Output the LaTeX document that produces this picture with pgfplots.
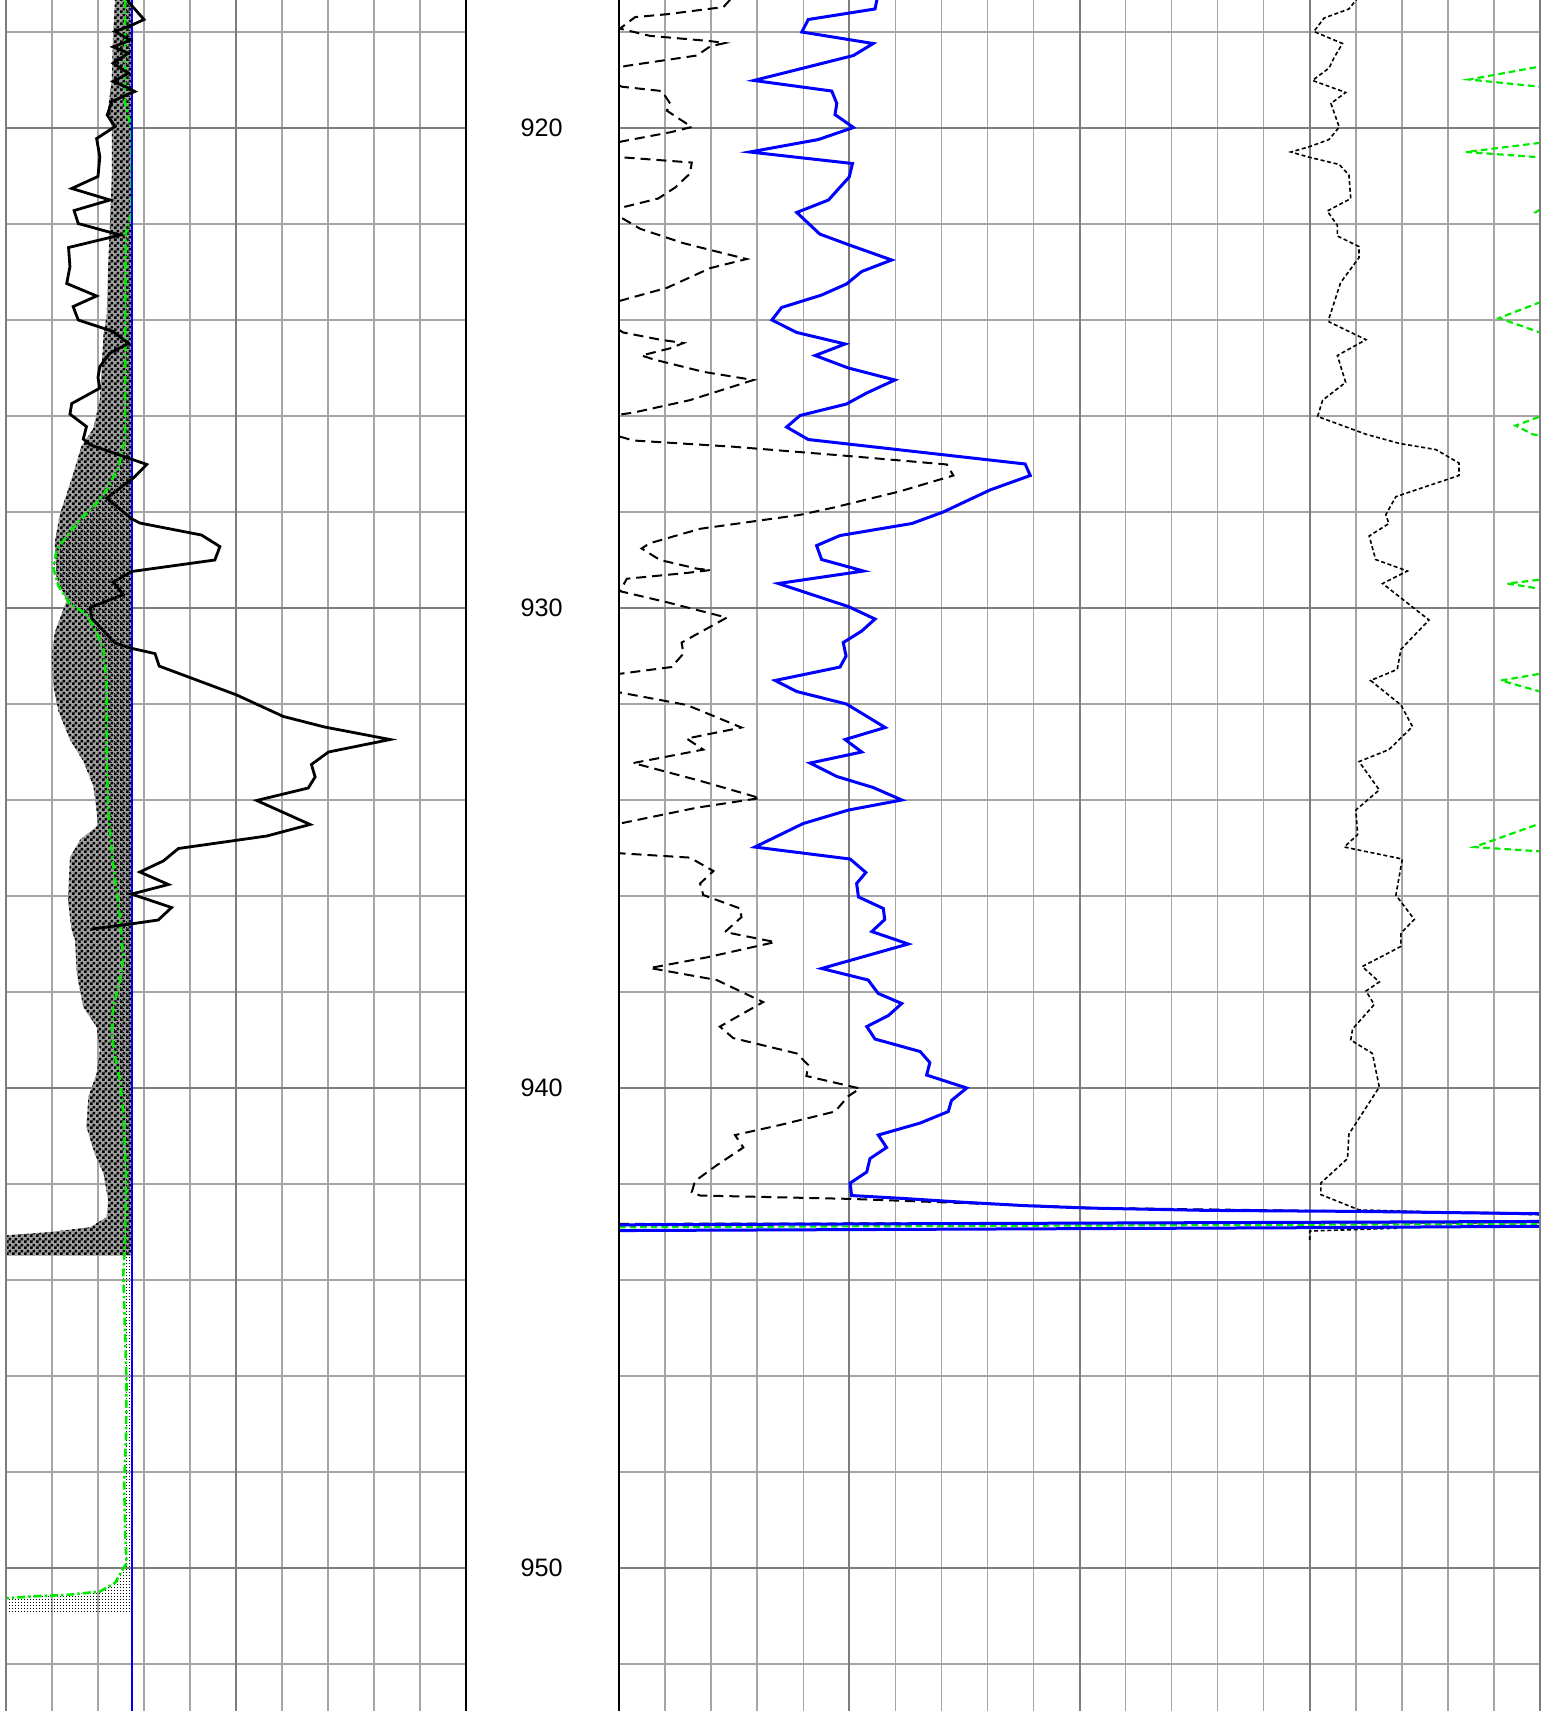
\documentclass[border=0pt]{standalone}
\usepackage{pgfplots}
\pgfplotsset{compat=1.18}
\usepackage{fontspec}
\setmainfont{Liberation Sans}
\usetikzlibrary{patterns}
\definecolor{gridgray}{RGB}{165,165,165}
\definecolor{majgray}{RGB}{125,125,125}
\definecolor{lgreen}{RGB}{0,235,0}
\pgfdeclarepatternformonly{chk}{\pgfpointorigin}{\pgfqpoint{3pt}{3pt}}{\pgfqpoint{3pt}{3pt}}{%
  \pgfpathrectangle{\pgfpointorigin}{\pgfqpoint{1.5pt}{1.5pt}}%
  \pgfpathrectangle{\pgfqpoint{1.5pt}{1.5pt}}{\pgfqpoint{1.5pt}{1.5pt}}%
  \pgfusepath{fill}}
\pgfdeclarepatternformonly{dts}{\pgfpointorigin}{\pgfqpoint{0.6pt}{0.6pt}}{\pgfqpoint{1.5pt}{1.5pt}}{%
  \pgfpathrectangle{\pgfpointorigin}{\pgfqpoint{0.6pt}{0.6pt}}%
  \pgfusepath{fill}}
\pgfplotsset{
  track/.style={
    scale only axis, anchor=north west, height=876pt,
    ymin=917, ymax=953.5, y dir=reverse,
    axis line style={draw=none},
    ytick={918,920,...,952},
    xticklabel=\empty, yticklabel=\empty,
    major tick length=0pt, tick style={draw=none},
    grid=major, major grid style={color=gridgray, line width=0.7pt},
    extra y ticks={920,930,940,950},
    extra tick style={grid=major, major grid style={color=majgray, line width=1pt}},
  }
}
\begin{document}
\begin{tikzpicture}
\useasboundingbox (0,0) rectangle (776.5pt,855.5pt);
\clip (0,0) rectangle (776.5pt,855.5pt);
% ---------------- left track ----------------
\begin{axis}[track, name=L, at={(3pt,863.5pt)}, width=230pt,
  xmin=0, xmax=10, xtick={0,...,10}, extra x ticks={5}]
% checker fill
\addplot[draw=none, fill=black!38, postaction={pattern=chk, pattern color=black}] coordinates {
(2.37,917.0) (2.37,917.33) (2.33,918.0) (2.30,919.0) (2.22,919.6) (2.30,920.0) (2.30,921.0)
(2.26,922.0) (2.22,922.9) (2.19,923.9) (2.12,924.3) (2.08,925.0) (2.04,925.66) (1.9,926.26)
(1.64,926.63) (1.43,927.3) (1.17,928.05) (1.06,928.64) (1.1,929.39) (1.32,929.84) (1.06,930.51)
(0.99,931.03) (1.03,931.62) (1.14,932.15) (1.39,932.74) (1.68,933.19) (1.9,933.71) (1.97,934.23)
(2.0,934.53) (1.61,934.83) (1.39,935.2) (1.35,936.09) (1.42,936.69) (1.5,936.92) (1.54,937.62)
(1.68,938.31) (1.97,938.73) (2.04,939.22) (1.97,939.7) (1.79,940.19) (1.75,940.81) (1.93,941.37)
(2.12,941.78) (2.22,942.34) (2.19,942.69) (1.83,942.9) (0.96,943.0) (0.0,943.07) (0.0,943.49)
(2.73,943.49) (2.73,917.0)} -- cycle;
% dotted fill between green curve and baseline
\addplot[draw=none, pattern=dts, pattern color=black] coordinates {
(2.59,917.0) (2.59,919.5) (2.72,920.0) (2.72,921.8) (2.6,922.2) (2.59,925.66) (2.59,926.48)
(2.44,927.08) (2.19,927.53) (1.97,927.82) (1.61,928.16) (1.32,928.5) (1.1,928.79) (1.03,929.17)
(1.14,929.54) (1.39,929.91) (1.75,930.13) (1.97,930.51) (2.12,930.88) (2.19,931.62) (2.19,933.11)
(2.22,934.23) (2.33,935.35) (2.48,936.47) (2.55,937.29) (2.48,937.76) (2.33,938.31) (2.30,938.87)
(2.37,939.35) (2.48,939.84) (2.55,940.53) (2.61,941.78) (2.59,943.17) (2.55,943.87) (2.62,946.15)
(2.61,947.19) (2.57,948.23) (2.59,949.27) (2.62,949.9) (2.37,950.31) (2.04,950.49) (1.32,950.56)
(0.59,950.59) (0.0,950.63) (0.0,950.94) (2.73,950.94) (2.73,917.0)} -- cycle;
% green dash-dot curve
\addplot[lgreen, line width=1.3pt, dash pattern=on 4pt off 1.5pt on 1.2pt off 1.5pt] coordinates {
(2.59,917.0) (2.59,919.5) (2.72,920.0) (2.72,921.8) (2.6,922.2) (2.59,925.66) (2.59,926.48)
(2.44,927.08) (2.19,927.53) (1.97,927.82) (1.61,928.16) (1.32,928.5) (1.1,928.79) (1.03,929.17)
(1.14,929.54) (1.39,929.91) (1.75,930.13) (1.97,930.51) (2.12,930.88) (2.19,931.62) (2.19,933.11)
(2.22,934.23) (2.33,935.35) (2.48,936.47) (2.55,937.29) (2.48,937.76) (2.33,938.31) (2.30,938.87)
(2.37,939.35) (2.48,939.84) (2.55,940.53) (2.61,941.78) (2.59,943.17) (2.55,943.87) (2.62,946.15)
(2.61,947.19) (2.57,948.23) (2.59,949.27) (2.62,949.9) (2.37,950.31) (2.04,950.49) (1.32,950.56)
(0.59,950.59) (0.0,950.63)};
% blue baseline
\addplot[blue, line width=1pt] coordinates {(2.73,917.0) (2.73,953.5)};
% black solid curve
\addplot[black, line width=1.4pt] coordinates {
(2.7,917.0) (2.66,917.37) (3.0,917.74) (2.75,917.85) (2.37,917.99) (2.70,918.17) (2.33,918.31)
(2.66,918.44) (2.33,918.65) (2.66,918.86) (2.33,919.03) (2.62,919.15) (2.80,919.24) (2.62,919.31)
(2.30,919.45) (2.20,919.73) (2.37,919.97) (1.97,920.22) (2.04,920.6) (2.0,921.01) (1.43,921.26)
(2.26,921.5) (1.48,921.72) (1.57,921.99) (2.48,922.23) (1.36,922.49) (1.39,922.89) (1.32,923.24)
(1.97,923.5) (1.46,923.72) (1.57,924.0) (2.33,924.24) (2.66,924.49) (2.26,924.69) (2.04,924.97)
(2.0,925.2) (2.04,925.42) (1.43,925.74) (1.39,925.96) (1.75,926.22) (1.68,926.48) (1.83,926.6)
(3.06,927.01) (2.77,927.29) (2.19,927.71) (2.73,928.14) (2.91,928.23) (4.25,928.48) (4.65,928.72)
(4.54,929.0) (2.73,929.24) (2.33,929.46) (2.55,929.72) (1.83,929.99) (1.86,930.21) (2.37,930.73)
(2.73,930.84) (3.24,930.95) (3.33,931.21) (5.01,931.81) (6.03,932.26) (6.93,932.48) (8.35,932.74)
(7.01,933.0) (6.64,933.26) (6.72,933.52) (6.57,933.75) (5.45,934.01) (6.61,934.51) (5.67,934.75)
(3.75,935.01) (3.42,935.27) (2.91,935.5) (3.53,935.76) (2.73,935.96) (3.6,936.24) (3.31,936.5)
(2.73,936.58) (1.86,936.69)};
\end{axis}
% ---------------- right track ----------------
\begin{axis}[track, name=R, at={(309.5pt,863.5pt)}, width=460.5pt,
  xmin=0, xmax=20, xtick={0,...,20}, extra x ticks={5,10,15}]
% black dashed curve
\addplot[black, line width=1pt, dash pattern=on 5pt off 3pt] coordinates {
(2.5,917.0) (2.41,917.33) (2.27,917.48) (1.04,917.63) (0.35,917.69) (0.02,917.93) (0.67,918.08)
(1.98,918.19) (2.3,918.23) (1.98,918.3) (1.69,918.49) (0.13,918.71) (-0.5,918.9) (0.06,919.14)
(0.93,919.23) (1.11,919.49) (1.04,919.64) (1.58,919.98) (1.11,920.09) (0.06,920.28) (-0.5,920.45)
(0.06,920.61) (1.58,920.72) (1.54,920.95) (1.22,921.24) (0.85,921.47) (0.13,921.64) (-0.3,921.75)
(0.0,921.84) (0.46,922.1) (1.4,922.4) (2.77,922.73) (1.98,922.92) (1.04,923.33) (0.02,923.6)
(-0.5,923.9) (0.09,924.26) (0.89,924.41) (1.4,924.48) (1.11,924.59) (0.49,924.74) (0.75,924.82)
(1.83,925.08) (2.92,925.25) (1.54,925.67) (0.31,925.93) (0.02,925.97) (-0.5,926.2) (0.02,926.43)
(0.31,926.51) (2.48,926.64) (4.94,926.83) (7.12,927.01) (7.26,927.24) (6.1,927.57) (4.65,927.91)
(3.93,928.06) (1.76,928.35) (0.67,928.65) (0.49,928.76) (0.89,929.0) (1.69,929.18) (1.98,929.21)
(1.47,929.27) (0.17,929.39) (0.02,929.65) (1.04,929.88) (2.34,930.2) (1.36,930.72) (1.4,930.95)
(1.14,931.23) (0.02,931.37) (-0.5,931.55) (0.02,931.76) (1.47,932.02) (2.66,932.49) (1.47,932.72)
(1.83,932.95) (0.31,933.23) (1.76,933.6) (3.06,933.96) (1.69,934.16) (0.02,934.49) (-0.5,934.8)
(0.02,935.11) (1.54,935.2) (2.05,935.48) (1.76,935.74) (1.83,935.98) (2.63,936.26) (2.66,936.44)
(2.3,936.75) (3.39,936.96) (1.9,937.28) (0.67,937.5) (2.12,937.75) (3.13,938.21) (2.19,938.72)
(2.48,938.96) (3.86,939.28) (4.11,939.52) (4.07,939.75) (5.23,940.01) (4.98,940.17) (4.69,940.49)
(3.5,940.77) (2.52,940.98) (2.7,941.24) (2.12,941.61) (1.65,941.94) (1.58,942.17) (1.76,942.24)
(5.02,942.31) (10.4,942.5) (15.96,942.57) (20.04,942.61) (22,942.62)};
\addplot[black, line width=1pt, dash pattern=on 5pt off 3pt] coordinates {(0,942.83) (20,942.80)};
% black fine-dotted curve
\addplot[black, line width=0.8pt, dash pattern=on 2pt off 1.3pt] coordinates {
(16.1,917.0) (16.01,917.33) (15.85,917.52) (15.31,917.71) (15.09,917.99) (15.71,918.24) (15.53,918.53)
(15.42,918.75) (15.06,919.01) (15.78,919.26) (15.46,919.49) (15.64,919.98) (15.42,920.24) (14.99,920.39)
(14.59,920.5) (14.95,920.6) (15.64,920.76) (15.85,920.98) (15.89,921.47) (15.38,921.73) (15.6,922.03)
(15.6,922.25) (16.07,922.47) (16.07,922.7) (15.67,923.22) (15.42,923.96) (15.42,924.04) (16.22,924.41)
(15.6,924.74) (15.78,925.3) (15.28,925.67) (15.17,926.01) (16.22,926.38) (16.94,926.57) (17.74,926.7)
(18.24,926.98) (18.24,927.24) (16.87,927.68) (16.65,928.06) (16.72,928.24) (16.29,928.5) (16.43,928.99)
(17.12,929.23) (16.58,929.49) (17.59,930.25) (16.98,930.86) (16.9,931.28) (16.32,931.51) (16.98,932.02)
(17.23,932.47) (16.72,932.95) (16.07,933.2) (16.51,933.79) (16.0,934.21) (16.04,934.72) (15.75,934.98)
(17.01,935.23) (16.87,935.98) (17.27,936.49) (16.98,936.77) (16.98,937.05) (16.14,937.47) (16.51,937.79)
(16.22,937.98) (16.4,938.26) (15.93,938.77) (15.89,939.0) (16.36,939.28) (16.51,939.98) (15.85,940.96)
(15.82,941.47) (15.24,941.98) (15.24,942.22) (16.07,942.54) (19.98,942.64) (22,942.65)};
\addplot[black, line width=0.8pt, dash pattern=on 2pt off 1.3pt] coordinates {
(16.9,942.92) (15.0,942.98) (15.0,943.18)};
% green dashed curve (mostly beyond the right edge)
\addplot[lgreen, line width=1.1pt, dash pattern=on 3.3pt off 2pt] coordinates {
(21,917.0) (21,918.6) (20,918.72) (18.46,918.99) (20,919.14) (21,919.3) (21,920.2) (20,920.31)
(18.39,920.5) (20,920.61) (21,920.7) (21,921.65) (20,921.7) (19.9,921.76) (20,921.82) (21,921.9)
(21,923.5) (20,923.63) (19.11,923.96) (20,924.26) (21,924.4) (21,925.9) (20,926.01) (19.47,926.2)
(19.84,926.38) (21,926.6) (21,929.3) (20,929.41) (19.29,929.49) (20,929.6) (21,929.7) (21,931.25)
(20,931.37) (19.15,931.51) (20,931.74) (21,931.9) (21,934.4) (20,934.49) (18.57,934.98) (20,935.07)
(21,935.2) (21,942.7)};
\addplot[lgreen, line width=1.1pt, dash pattern=on 3.3pt off 2pt] coordinates {(0,942.90) (20,942.83)};
% blue solid curve
\addplot[blue, line width=1.5pt] coordinates {
(5.6,917.0) (5.6,917.33) (5.56,917.52) (4.11,917.74) (3.97,918.0) (5.52,918.24) (5.09,918.49)
(2.93,919.01) (4.62,919.23) (4.73,919.49) (4.69,919.72) (5.09,919.99) (4.33,920.24) (2.84,920.5)
(5.07,920.74) (5.0,921.02) (4.55,921.5) (3.86,921.76) (4.36,922.21) (4.98,922.43) (5.92,922.75)
(5.27,922.99) (4.94,923.25) (4.4,923.48) (3.53,923.74) (3.32,924.0) (3.86,924.26) (4.91,924.5)
(4.26,924.74) (4.98,925.0) (5.99,925.25) (5.38,925.52) (4.94,925.75) (3.93,925.99) (3.64,926.23)
(4.11,926.49) (8.82,927.0) (8.93,927.24) (8.06,927.54) (7.04,928.0) (6.36,928.24) (4.8,928.49)
(4.29,928.7) (4.4,928.99) (5.31,929.23) (3.46,929.49) (4.98,929.97) (5.56,930.23) (5.27,930.48)
(4.87,930.72) (4.93,931.0) (4.8,931.23) (3.39,931.51) (3.86,931.74) (4.94,932.0) (5.78,932.49)
(4.91,932.74) (5.27,933.0) (4.15,933.23) (4.73,933.51) (5.52,933.74) (6.14,934.0) (4.98,934.21)
(4.0,934.49) (2.95,934.98) (5.02,935.23) (5.36,935.51) (5.16,935.74) (5.2,936.02) (5.74,936.26)
(5.77,936.49) (5.49,936.74) (6.28,937.0) (4.4,937.51) (5.41,937.75) (5.63,938.03) (6.14,938.24)
(5.85,938.49) (5.38,938.72) (5.56,938.98) (6.54,939.24) (6.75,939.47) (6.68,939.73) (7.55,940.0)
(7.22,940.26) (7.15,940.49) (6.54,940.73) (5.63,940.98) (5.81,941.24) (5.45,941.47) (5.38,941.75)
(5.02,941.98) (5.05,942.24) (6.16,942.3) (7.48,942.38) (8.8,942.45) (10.13,942.5) (12.78,942.55)
(15.96,942.57) (20.0,942.62) (22,942.63)};
\addplot[blue, line width=1.5pt] coordinates {(0,942.85) (20,942.78)};
\addplot[blue, line width=1.5pt] coordinates {(0,942.97) (5,942.95) (10,942.93) (15,942.91) (20,942.88)};
\end{axis}
% track borders
\draw[majgray, line width=1.1pt] (L.north west) -- (L.south west);
\draw[black, line width=1.1pt] (L.north east) -- (L.south east);
\draw[black, line width=1.1pt] (R.north west) -- (R.south west);
\draw[majgray, line width=1.3pt] (R.north east) -- (R.south east);
% depth labels
\begin{scope}[every node/.style={font=\fontsize{12.6}{15}\selectfont, inner sep=0pt}]
\node at (270.85pt,791.5pt) {920};
\node at (270.85pt,551.5pt) {930};
\node at (270.85pt,311.5pt) {940};
\node at (270.85pt,71.5pt) {950};
\end{scope}
\end{tikzpicture}
\end{document}
